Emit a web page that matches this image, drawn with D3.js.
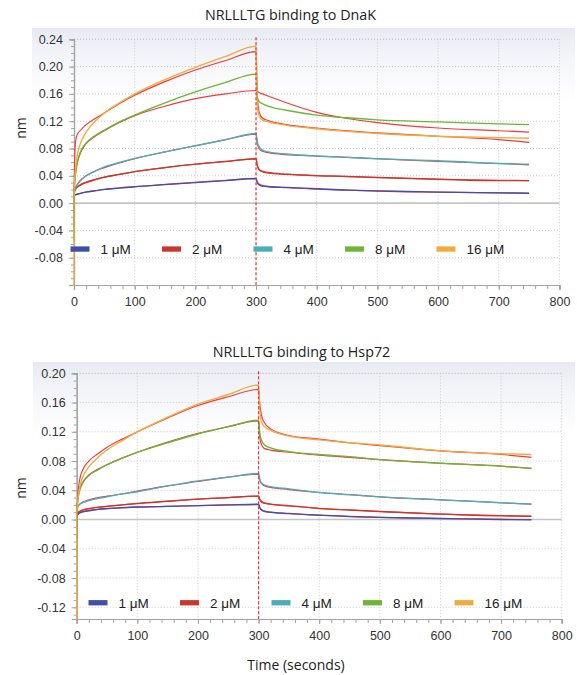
<!DOCTYPE html>
<html>
<head>
<meta charset="utf-8">
<script src="https://cdn.jsdelivr.net/npm/d3@7"></script>
<style>
  body { margin: 0; background: #fff; }
  svg { display: block; }
</style>
</head>
<body>
<svg id="chart" width="577" height="675"></svg>
<script>
// Sample times (s): association 0-300 s, dissociation 300-750 s
const timeSec = [0, 1, 2, 5, 10, 20, 35, 50, 75, 100, 150, 200, 250, 300,
                 302, 305, 310, 320, 350, 400, 450, 500, 600, 700, 750];

const concLabels = ["1 \u03BCM", "2 \u03BCM", "4 \u03BCM", "8 \u03BCM", "16 \u03BCM"];
const seriesColors = ["#3f50a6", "#c8372b", "#4aaeb9", "#6cb535", "#f2aa3e"];
const fitColor = "#f03a3a";

const xTickValues = [0, 100, 200, 300, 400, 500, 600, 700, 800];
const dnakYTicks = [-0.08, -0.04, 0.00, 0.04, 0.08, 0.12, 0.16, 0.20, 0.24];
const hspYTicks = [-0.12, -0.08, -0.04, 0.00, 0.04, 0.08, 0.12, 0.16, 0.20];

// NRLLLTG binding to DnaK (nm): measured traces
const dnak1uM  = [0.009, 0.0115, 0.012, 0.013, 0.014, 0.016, 0.018, 0.020, 0.022, 0.024, 0.027, 0.030, 0.033, 0.036,
                  0.030, 0.027, 0.025, 0.024, 0.023, 0.021, 0.019, 0.018, 0.016, 0.015, 0.0145];
const dnak2uM  = [0.016, 0.017, 0.019, 0.023, 0.026, 0.030, 0.034, 0.038, 0.042, 0.046, 0.052, 0.057, 0.061, 0.065,
                  0.055, 0.049, 0.046, 0.044, 0.042, 0.040, 0.039, 0.0375, 0.035, 0.033, 0.033];
const dnak4uM  = [0.016, 0.019, 0.021, 0.026, 0.032, 0.040, 0.047, 0.053, 0.0595, 0.0655, 0.075, 0.084, 0.093, 0.102,
                  0.090, 0.083, 0.078, 0.075, 0.072, 0.069, 0.067, 0.065, 0.062, 0.058, 0.057];
const dnak8uM  = [0.016, 0.030, 0.040, 0.058, 0.074, 0.088, 0.099, 0.107, 0.119, 0.129, 0.147, 0.163, 0.177, 0.189,
                  0.155, 0.149, 0.146, 0.142, 0.136, 0.129, 0.125, 0.122, 0.119, 0.116, 0.115];
const dnak16uM = [0.012, 0.032, 0.046, 0.068, 0.086, 0.104, 0.120, 0.132, 0.147, 0.160, 0.181, 0.199, 0.215, 0.230,
                  0.145, 0.128, 0.122, 0.119, 0.114, 0.109, 0.105, 0.102, 0.098, 0.096, 0.095];
// DnaK: fitted curves
const dnakFit1uM  = [0.009, 0.011, 0.012, 0.013, 0.0145, 0.0165, 0.0185, 0.020, 0.0225, 0.024, 0.0275, 0.0305, 0.0335, 0.036,
                     0.031, 0.028, 0.026, 0.0245, 0.0225, 0.0205, 0.019, 0.0175, 0.016, 0.015, 0.0145];
const dnakFit2uM  = [0.016, 0.018, 0.020, 0.023, 0.027, 0.031, 0.035, 0.038, 0.042, 0.046, 0.052, 0.057, 0.061, 0.065,
                     0.056, 0.050, 0.047, 0.045, 0.0425, 0.0405, 0.039, 0.0375, 0.035, 0.0335, 0.033];
const dnakFit4uM  = [0.016, 0.020, 0.022, 0.027, 0.033, 0.040, 0.047, 0.052, 0.059, 0.065, 0.075, 0.084, 0.093, 0.101,
                     0.088, 0.080, 0.076, 0.074, 0.071, 0.069, 0.067, 0.065, 0.061, 0.058, 0.056];
const dnakFit8uM  = [0.016, 0.029, 0.039, 0.057, 0.072, 0.087, 0.098, 0.106, 0.118, 0.128, 0.142, 0.153, 0.160, 0.165,
                     0.164, 0.162, 0.160, 0.157, 0.147, 0.133, 0.124, 0.118, 0.110, 0.106, 0.104];
const dnakFit16uM = [0.012, 0.060, 0.085, 0.100, 0.106, 0.115, 0.124, 0.132, 0.146, 0.158, 0.178, 0.195, 0.209, 0.222,
                     0.160, 0.134, 0.125, 0.121, 0.115, 0.110, 0.106, 0.103, 0.098, 0.093, 0.089];
// Injection artefact at t = 0 (lowest reading per trace, null = none)
const dnakStartDip = [-0.035, null, null, -0.055, -0.12];

// NRLLLTG binding to Hsp72 (nm): measured traces
const hsp1uM  = [0.004, 0.006, 0.007, 0.009, 0.0105, 0.012, 0.014, 0.015, 0.0163, 0.0172, 0.018, 0.019, 0.020, 0.021,
                 0.016, 0.013, 0.011, 0.010, 0.008, 0.006, 0.004, 0.003, 0.0015, 0.000, -0.0005];
const hsp2uM  = [0.006, 0.008, 0.009, 0.011, 0.013, 0.015, 0.017, 0.018, 0.020, 0.022, 0.025, 0.028, 0.030, 0.032,
                 0.027, 0.024, 0.022, 0.021, 0.019, 0.015, 0.013, 0.011, 0.0075, 0.005, 0.0045];
const hsp4uM  = [0.012, 0.015, 0.018, 0.021, 0.023, 0.026, 0.029, 0.031, 0.035, 0.038, 0.046, 0.053, 0.058, 0.063,
                 0.055, 0.050, 0.047, 0.045, 0.042, 0.037, 0.034, 0.031, 0.027, 0.023, 0.021];
const hsp8uM  = [0.010, 0.018, 0.027, 0.040, 0.050, 0.060, 0.068, 0.075, 0.084, 0.092, 0.105, 0.117, 0.127, 0.136,
                 0.118, 0.108, 0.102, 0.098, 0.093, 0.089, 0.086, 0.082, 0.077, 0.073, 0.070];
const hsp16uM = [0.010, 0.018, 0.027, 0.045, 0.058, 0.072, 0.085, 0.095, 0.108, 0.120, 0.140, 0.158, 0.171, 0.184,
                 0.150, 0.133, 0.127, 0.122, 0.114, 0.109, 0.105, 0.102, 0.094, 0.090, 0.089];
// Hsp72: fitted curves
const hspFit1uM  = [0.004, 0.007, 0.008, 0.0095, 0.011, 0.0125, 0.014, 0.015, 0.016, 0.017, 0.018, 0.019, 0.020, 0.0205,
                    0.016, 0.0135, 0.0115, 0.010, 0.0085, 0.006, 0.0045, 0.003, 0.0015, 0.0005, 0.000];
const hspFit2uM  = [0.006, 0.0085, 0.0095, 0.0115, 0.013, 0.015, 0.0165, 0.018, 0.020, 0.022, 0.025, 0.028, 0.030, 0.032,
                    0.028, 0.025, 0.023, 0.021, 0.0185, 0.0155, 0.013, 0.011, 0.0075, 0.0055, 0.0045];
const hspFit4uM  = [0.012, 0.016, 0.018, 0.021, 0.024, 0.027, 0.030, 0.032, 0.035, 0.039, 0.046, 0.052, 0.058, 0.062,
                    0.054, 0.049, 0.046, 0.044, 0.041, 0.037, 0.034, 0.031, 0.027, 0.023, 0.021];
const hspFit8uM  = [0.010, 0.020, 0.028, 0.041, 0.051, 0.061, 0.069, 0.075, 0.084, 0.092, 0.106, 0.118, 0.127, 0.135,
                    0.112, 0.102, 0.097, 0.095, 0.092, 0.088, 0.085, 0.082, 0.077, 0.073, 0.070];
const hspFit16uM = [0.010, 0.022, 0.035, 0.055, 0.068, 0.080, 0.090, 0.099, 0.110, 0.120, 0.139, 0.156, 0.168, 0.178,
                    0.158, 0.142, 0.132, 0.124, 0.115, 0.110, 0.105, 0.101, 0.094, 0.089, 0.085];
const hspStartDip = [-0.025, null, null, -0.048, -0.136];

const svg = d3.select("#chart");
const defs = svg.append("defs");
const grad = defs.append("linearGradient").attr("id", "panelBg")
  .attr("x1", 0).attr("y1", 0).attr("x2", 0).attr("y2", 1);
grad.append("stop").attr("offset", "0").attr("stop-color", "#e8eaf3");
grad.append("stop").attr("offset", "0.10").attr("stop-color", "#f3f4f8");
grad.append("stop").attr("offset", "0.28").attr("stop-color", "#ffffff");

const tickFont = "'Liberation Sans', Arial, sans-serif";
const titleFont = "'Open Sans', 'Liberation Sans', sans-serif";

function fmt(v) {
  const s = (Math.round(v * 100) / 100).toFixed(2);
  return s === "-0.00" ? "0.00" : s;
}

function drawPanel(cfg) {
  const g = svg.append("g");

  g.append("rect")
    .attr("x", cfg.bg[0]).attr("y", cfg.bg[1])
    .attr("width", cfg.bg[2]).attr("height", cfg.bg[3])
    .attr("fill", "url(#panelBg)");

  const x = d3.scaleLinear().domain([0, 800]).range([cfg.left, cfg.right]);
  const y = d3.scaleLinear().domain(cfg.yDomain).range([cfg.bottom, cfg.top]);

  // dotted grid
  const grid = g.append("g").attr("stroke", "#c9c9c9").attr("stroke-width", 1)
    .attr("stroke-dasharray", "1,2");
  xTickValues.filter(v => v > 0).forEach(v => {
    grid.append("line").attr("x1", x(v)).attr("x2", x(v))
      .attr("y1", y(cfg.yDomain[1])).attr("y2", y(cfg.yDomain[0]));
  });
  cfg.yTicks.concat([cfg.yDomain[1]]).filter(v => Math.abs(v) > 1e-9).forEach(v => {
    grid.append("line").attr("x1", x(0)).attr("x2", x(800))
      .attr("y1", y(v)).attr("y2", y(v));
  });
  // zero line
  g.append("line").attr("x1", x(0)).attr("x2", x(800))
    .attr("y1", y(0)).attr("y2", y(0))
    .attr("stroke", "#c4c4c4").attr("stroke-width", 1.6);

  // minor ticks
  const yMinor = d3.range(Math.ceil(cfg.yDomain[0] * 100 - 1e-6), Math.floor(cfg.yDomain[1] * 100 + 1e-6) + 1)
    .map(k => k / 100);
  const xMinor = d3.range(0, 801, 20);

  const yAxisMinor = g.append("g").attr("transform", `translate(${cfg.left},0)`)
    .call(d3.axisLeft(y).tickValues(yMinor).tickSize(3).tickFormat(""));
  const xAxisMinor = g.append("g").attr("transform", `translate(0,${cfg.bottom})`)
    .call(d3.axisBottom(x).tickValues(xMinor).tickSize(4).tickFormat(""));

  const yAxis = g.append("g").attr("transform", `translate(${cfg.left},0)`)
    .call(d3.axisLeft(y).tickValues(cfg.yTicks).tickSize(5).tickPadding(6).tickFormat(fmt));
  const xAxis = g.append("g").attr("transform", `translate(0,${cfg.bottom})`)
    .call(d3.axisBottom(x).tickValues(xTickValues).tickSize(5).tickPadding(7).tickFormat(d3.format("d")));

  [yAxisMinor, xAxisMinor, yAxis, xAxis].forEach(a => {
    a.select(".domain").attr("stroke", "#a3a3a3").attr("stroke-width", 1.2);
    a.selectAll(".tick line").attr("stroke", "#a3a3a3");
  });
  [yAxis, xAxis].forEach(a => {
    a.selectAll("text").attr("font-family", tickFont).attr("font-size", 12.5).attr("fill", "#333");
  });

  // fitted curves below, measured traces above
  const line = d3.line().x((d, i) => x(timeSec[i])).y(d => y(d)).curve(d3.curveMonotoneX);
  const vline = d3.line().x(d => x(d[0])).y(d => y(d[1]));

  cfg.fits.forEach(f => {
    g.append("path").datum(f).attr("d", line)
      .attr("fill", "none").attr("stroke", fitColor).attr("stroke-width", 1.15)
      .attr("stroke-linejoin", "round");
  });
  cfg.data.forEach((s, i) => {
    if (cfg.dips[i] !== null) {
      g.append("path").datum([[0, cfg.dips[i]], [0, s[0]]]).attr("d", vline)
        .attr("fill", "none").attr("stroke", seriesColors[i]).attr("stroke-width", 1.3);
    }
    g.append("path").datum(s).attr("d", line)
      .attr("fill", "none").attr("stroke", seriesColors[i]).attr("stroke-width", 1.35)
      .attr("stroke-linejoin", "round");
  });

  // end of association phase
  g.append("line").attr("x1", x(300)).attr("x2", x(300))
    .attr("y1", y(cfg.yDomain[1]) - 2).attr("y2", y(cfg.yDomain[0]))
    .attr("stroke", "#e23b3b").attr("stroke-width", 1.2).attr("stroke-dasharray", "3,2");

  // title and y label
  g.append("text").attr("x", cfg.titleX).attr("y", cfg.titleY).attr("text-anchor", "middle")
    .attr("font-family", titleFont).attr("font-size", 14.3).attr("fill", "#222").text(cfg.title);
  g.append("text").attr("transform", `translate(26,${cfg.nmY}) rotate(-90)`)
    .attr("text-anchor", "middle").attr("font-family", titleFont).attr("font-size", 14)
    .attr("fill", "#222").text("nm");

  // legend
  concLabels.forEach((lab, i) => {
    const lx = cfg.legendX + i * 91.5;
    g.append("rect").attr("x", lx).attr("y", cfg.legendY - 2.6).attr("width", 19).attr("height", 5.3)
      .attr("fill", seriesColors[i]);
    g.append("text").attr("x", lx + 30).attr("y", cfg.legendY + 5)
      .attr("font-family", tickFont).attr("font-size", 13.5).attr("fill", "#222").text(lab);
  });
}

drawPanel({
  title: "NRLLLTG binding to DnaK", titleX: 290.5, titleY: 20,
  left: 74, right: 559.4, top: 39.3, bottom: 285,
  yDomain: [-0.12, 0.24], yTicks: dnakYTicks,
  bg: [32, 28, 543, 262], nmY: 128,
  legendX: 70.5, legendY: 249,
  data: [dnak1uM, dnak2uM, dnak4uM, dnak8uM, dnak16uM],
  fits: [dnakFit1uM, dnakFit2uM, dnakFit4uM, dnakFit8uM, dnakFit16uM],
  dips: dnakStartDip
});

drawPanel({
  title: "NRLLLTG binding to Hsp72", titleX: 301.5, titleY: 357,
  left: 76.7, right: 561.7, top: 373.3, bottom: 619,
  yDomain: [-0.136, 0.20], yTicks: hspYTicks,
  bg: [33, 362, 542, 262], nmY: 488,
  legendX: 88.5, legendY: 602.7,
  data: [hsp1uM, hsp2uM, hsp4uM, hsp8uM, hsp16uM],
  fits: [hspFit1uM, hspFit2uM, hspFit4uM, hspFit8uM, hspFit16uM],
  dips: hspStartDip
});

svg.append("text").attr("x", 296).attr("y", 670).attr("text-anchor", "middle")
  .attr("font-family", titleFont).attr("font-size", 14).attr("fill", "#222")
  .text("Time (seconds)");
</script>
</body>
</html>
